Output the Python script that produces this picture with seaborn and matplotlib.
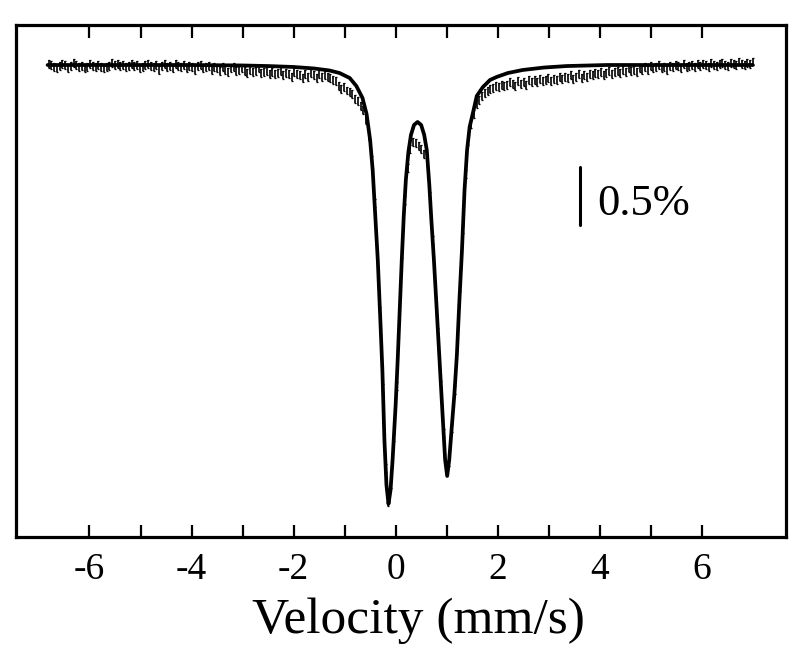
import numpy as np
import pandas as pd
import matplotlib
matplotlib.use("Agg")
import matplotlib.pyplot as plt
import seaborn as sns

# ---------------- data (absorption in %) ----------------
velocity_start = -6.8   # mm/s, first channel
velocity_end = 7.0      # mm/s, last channel

absorption_left = [
    -0.01, 0.00, 0.02, 0.03, 0.01, -0.01, 0.00, 0.03, 0.01, -0.02,
    0.00, 0.02, 0.01, 0.03, 0.02, -0.01, 0.01, 0.02, 0.00, 0.02,
    0.03, 0.02, 0.01, -0.02, 0.00, -0.01, 0.01, 0.00, 0.02, 0.01,
    -0.01, 0.01, 0.00, 0.03, 0.02, 0.00, -0.01, 0.01, 0.02, 0.00,
    0.04, 0.01, -0.01,
    0.02, 0.01, 0.03, -0.01, 0.01, 0.02, 0.00, 0.03, 0.01, 0.02,
    0.04, 0.01, 0.00, 0.03, 0.02, 0.01, 0.04, 0.02,
    0.03, 0.05, 0.02, 0.04, 0.06, 0.03, 0.02, 0.05, 0.04, 0.03,
    0.05, 0.07, 0.04, 0.06, 0.05, 0.03, 0.07, 0.06, 0.05, 0.08,
    0.06, 0.08, 0.07, 0.05, 0.09, 0.07, 0.08, 0.10, 0.06, 0.08,
    0.09, 0.11, 0.08, 0.10, 0.07, 0.09, 0.11, 0.08, 0.10, 0.09,
    0.10, 0.11, 0.13, 0.14,
    0.18, 0.21, 0.19, 0.22, 0.23, 0.25, 0.29,
]

absorption_doublet = [
    0.310, 0.353, 0.388, 0.474, 0.612, 0.819, 1.190, 1.612, 2.121, 2.784,
    3.474, 3.767, 3.612, 3.207, 2.767, 2.198, 1.629, 1.164, 0.888, 0.724,
    0.664, 0.672, 0.698, 0.724, 0.767, 0.836, 1.129, 1.509, 1.897, 2.302,
    2.759, 3.172, 3.491, 3.422, 3.129, 2.802, 2.414, 1.914, 1.414, 0.940,
    0.655, 0.509, 0.422, 0.336, 0.302, 0.267, 0.241, 0.224, 0.207,
]

absorption_right = [
    0.20, 0.18, 0.19, 0.17, 0.18,
    0.17, 0.15, 0.16, 0.18, 0.14, 0.16, 0.15, 0.17, 0.13, 0.15,
    0.13, 0.15, 0.12, 0.14, 0.13, 0.11, 0.14, 0.12, 0.13, 0.10,
    0.12, 0.10, 0.11, 0.09, 0.12, 0.10, 0.08, 0.11, 0.09, 0.10,
    0.08, 0.09, 0.07, 0.08, 0.06, 0.09, 0.07, 0.05, 0.08, 0.06,
    0.05, 0.07, 0.04, 0.06, 0.03, 0.05, 0.04, 0.06, 0.03, 0.04,
    0.02, 0.04, 0.01, 0.03, 0.02, 0.00, 0.03, 0.02, 0.04, 0.01,
    0.02, 0.00, 0.01, 0.03, -0.01, 0.02, 0.01, 0.00, 0.02, -0.01,
    0.01, -0.01, 0.00, 0.02, -0.02, 0.00, 0.01, -0.01, -0.02, 0.00,
    0.01, -0.02, -0.01, 0.00, -0.03, -0.01, 0.00, -0.02, -0.01, -0.03,
]

error_pct = 0.034

fit_velocity = [
    -6.82, -5.0, -4.0, -3.0, -2.5, -2.0, -1.6, -1.3, -1.1, -0.9,
    -0.77, -0.65, -0.57, -0.50, -0.45, -0.40, -0.35, -0.30, -0.26, -0.22,
    -0.18, -0.14, -0.10, -0.06, 0.0, 0.04, 0.08, 0.12, 0.16, 0.20,
    0.25, 0.30, 0.36, 0.43, 0.50, 0.56, 0.61, 0.66, 0.70, 0.75,
    0.80, 0.86, 0.92, 0.97, 1.01, 1.05, 1.10, 1.15, 1.20, 1.25,
    1.30, 1.35, 1.40, 1.45, 1.51, 1.59, 1.71, 1.85, 1.98, 2.2,
    2.49, 2.9, 3.35, 4.14, 5.5, 7.0,
]
fit_absorption = [
    0.0, 0.0, 0.0, 0.004, 0.009, 0.017, 0.030, 0.047, 0.069, 0.112,
    0.181, 0.284, 0.422, 0.647, 0.905, 1.293, 1.681, 2.198, 2.629, 3.233,
    3.621, 3.784, 3.664, 3.405, 2.931, 2.543, 2.112, 1.681, 1.293, 0.991,
    0.750, 0.603, 0.517, 0.491, 0.517, 0.603, 0.733, 1.034, 1.336, 1.681,
    2.069, 2.543, 3.017, 3.405, 3.543, 3.405, 3.121, 2.845, 2.500, 2.026,
    1.595, 1.078, 0.733, 0.534, 0.422, 0.267, 0.190, 0.129, 0.103, 0.069,
    0.043, 0.022, 0.009, 0.0, 0.0, 0.0,
]

xticks = [-6, -5, -4, -3, -2, -1, 0, 1, 2, 3, 4, 5, 6]
xtick_labels = ["-6", "", "-4", "", "-2", "", "0", "", "2", "", "4", "", "6"]
xlabel = "Velocity (mm/s)"
scale_label = "0.5%"
scale_pct = 0.5

# ---------------- build frames ----------------
absorption = absorption_left + absorption_doublet + absorption_right
velocity = np.linspace(velocity_start, velocity_end, len(absorption))
data = pd.DataFrame({"v": velocity, "t": -np.array(absorption)})
fit = pd.DataFrame({"v": fit_velocity, "t": -np.array(fit_absorption)})

# ---------------- plot ----------------
sns.set_theme(style="white")
plt.rcParams["font.family"] = ["Liberation Serif", "DejaVu Serif"]

fig = plt.figure(figsize=(8.0, 6.49), dpi=100)
ax = fig.add_axes([0.02, 0.1726, 0.9625, 0.7889])

ax.errorbar(data["v"], data["t"], yerr=error_pct, fmt="none",
            ecolor="black", elinewidth=1.2, capsize=1.0, capthick=0.9, zorder=2)
sns.lineplot(data=fit, x="v", y="t", ax=ax, color="black", linewidth=2.7,
             estimator=None, sort=False, zorder=3)

# scale bar
ax.plot([3.61, 3.61], [-0.879, -0.879 - scale_pct], color="black", linewidth=2.2)
ax.text(3.96, -1.293, scale_label, fontsize=32, ha="left", va="baseline", color="black")

ax.set_xlim(-7.44, 7.65)
ax.set_ylim(-4.069, 0.345)
ax.set_xticks(xticks)
ax.set_xticklabels(xtick_labels)
ax.set_yticks([])
ax.tick_params(axis="x", which="major", direction="in", length=9, width=1.6,
               top=True, bottom=True, labelsize=27, pad=11, colors="black")
ax.set_xlabel(xlabel, fontsize=37, color="black")
ax.xaxis.set_label_coords(0.523, -0.118)
ax.set_ylabel("")
for s in ax.spines.values():
    s.set_visible(True)
    s.set_color("black")
    s.set_linewidth(2.3)
ax.grid(False)

fig.savefig("out.png", dpi=100, facecolor="white")
